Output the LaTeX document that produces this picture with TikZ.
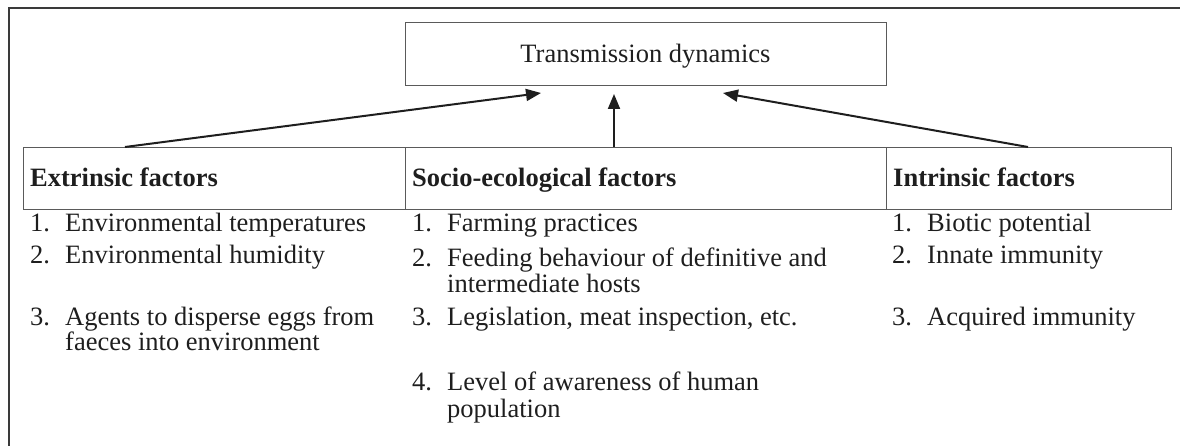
\documentclass[tikz,border=0pt]{standalone}
\usepackage{fontspec}
\setmainfont{Liberation Serif}
\usetikzlibrary{arrows.meta}
\definecolor{ink}{HTML}{1E1E1E}
\definecolor{framec}{HTML}{3A3A3A}
\definecolor{boxc}{HTML}{5A5A5A}
\tikzset{
  frameline/.style={draw=framec, line width=2pt},
  cellbox/.style={draw=boxc, line width=1.2pt, inner sep=0pt, anchor=north west},
  arr/.style={draw=ink, line width=2pt, -{Triangle[length=15pt,width=12pt]}},
  txt/.style={anchor=base west, inner sep=0pt, text=ink, font=\fontsize{26.5}{30}\selectfont},
  hdr/.style={txt, font=\fontsize{26.5}{30}\selectfont\bfseries},
}
\begin{document}
\begin{tikzpicture}[x=1pt,y=-1pt]
\useasboundingbox (0,0) rectangle (1180,446);
% outer frame (top and left edges visible)
\draw[frameline] (1182,8) -- (9,8) -- (9,448);
% top box
\node[cellbox, minimum width=481pt, minimum height=63pt, line width=1.4pt] (trans) at (405,22) {};
\node[txt, anchor=base] (transtxt) at (645.5,63) {Transmission dynamics};
% header cells
\node[cellbox, minimum width=382pt, minimum height=62pt] (hA) at (23,147) {};
\node[cellbox, minimum width=481pt, minimum height=62pt] (hB) at (405,147) {};
\node[cellbox, minimum width=285pt, minimum height=62pt] (hC) at (886,147) {};
\node[hdr] (tA) at (30,187) {Extrinsic factors};
\node[hdr] (tB) at (412,187) {Socio-ecological factors};
\node[hdr] (tC) at (893,187) {Intrinsic factors};
% arrows
\coordinate (s1) at (125,147); \coordinate (e1) at (541,93);
\coordinate (s2) at (614,147); \coordinate (e2) at (614,94);
\coordinate (s3) at (1028,147); \coordinate (e3) at (723,93);
\draw[arr] (s1) -- (e1);
\draw[arr] (s2) -- (e2);
\draw[arr] (s3) -- (e3);
% extrinsic list
\node[txt] (a1n) at (30,232) {1.};  \node[txt] (a1) at (65,232) {Environmental temperatures};
\node[txt] (a2n) at (30,264) {2.};  \node[txt] (a2) at (65,264) {Environmental humidity};
\node[txt] (a3n) at (30,325) {3.};  \node[txt] (a3) at (65,325) {Agents to disperse eggs from};
\node[txt] (a3b) at (65,350) {faeces into environment};
% socio-ecological list
\node[txt] (b1n) at (412,232) {1.}; \node[txt] (b1) at (447,232) {Farming practices};
\node[txt] (b2n) at (412,266) {2.}; \node[txt] (b2) at (447,266) {Feeding behaviour of definitive and};
\node[txt] (b2b) at (447,292) {intermediate hosts};
\node[txt] (b3n) at (412,325) {3.}; \node[txt] (b3) at (447,325) {Legislation, meat inspection, etc.};
\node[txt] (b4n) at (412,390) {4.}; \node[txt] (b4) at (447,390) {Level of awareness of human};
\node[txt] (b4b) at (447,417) {population};
% intrinsic list
\node[txt] (c1n) at (892,232) {1.}; \node[txt] (c1) at (927,232) {Biotic potential};
\node[txt] (c2n) at (892,264) {2.}; \node[txt] (c2) at (927,264) {Innate immunity};
\node[txt] (c3n) at (892,325) {3.}; \node[txt] (c3) at (927,325) {Acquired immunity};
\end{tikzpicture}
\end{document}
